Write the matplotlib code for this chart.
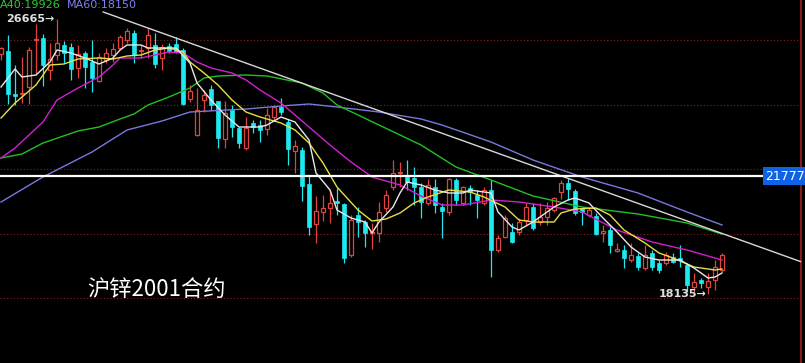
import matplotlib
matplotlib.use('Agg')
import matplotlib.pyplot as plt
from matplotlib.patches import Rectangle

plt.rcParams['font.family'] = ['DejaVu Sans', 'Noto Sans CJK SC']

# 日K线 OHLC
opens = [25566, 25659, 24326, 24326, 24543, 26000, 26062, 25070, 25535, 25845,
         25783, 25132, 25597, 25318, 24729, 25380, 25535, 25752, 26000, 26217,
         25659, 25752, 25845, 25442, 25814, 25876, 25690, 24171, 23055, 24140,
         24481, 24109, 22931, 23830, 23272, 22652, 23427, 23365, 23241, 23613,
         23923, 23458, 22559, 22590, 21536, 20296, 20668, 20792, 21009, 20916,
         19335, 20575, 20358, 20017, 20017, 20792, 21443, 21877, 21753, 21722,
         21443, 20947, 21443, 20823, 20668, 21660, 20947, 21412, 21195, 20947,
         21350, 19490, 19893, 20048, 20048, 20420, 20823, 20358, 20513, 20730,
         21288, 21567, 21319, 20792, 20575, 20544, 20017, 20110, 19459, 19490,
         19180, 19304, 18932, 19397, 19087, 19087, 19273, 19242, 19025, 18343,
         18560, 18343, 18560, 18870]
highs = [25783, 26155, 25225, 25473, 25783, 26496, 26186, 25907, 26665, 25969,
         25907, 25845, 25659, 26000, 25597, 25752, 25907, 26155, 26372, 26310,
         25845, 26372, 26217, 25876, 25907, 26093, 25752, 24605, 24512, 24450,
         24605, 24109, 24109, 23985, 23303, 23613, 23520, 23520, 23892, 23985,
         24202, 23551, 22900, 22683, 21784, 21164, 21195, 21350, 21412, 20947,
         20575, 20823, 20420, 20327, 20978, 21350, 22280, 22218, 22280, 22063,
         21567, 21691, 21691, 20947, 21722, 21722, 21474, 21505, 21350, 21443,
         21660, 19955, 20575, 20327, 20482, 20947, 20947, 20947, 20978, 21133,
         21660, 21722, 21381, 20823, 20792, 20637, 20265, 20234, 19707, 19645,
         19707, 19397, 19645, 19490, 19180, 19428, 19397, 19645, 19087, 18777,
         18622, 18777, 19180, 19397]
lows = [25380, 24016, 23985, 24047, 24016, 24915, 24574, 24760, 25380, 25287,
        24760, 24822, 24512, 24388, 24698, 25287, 25318, 25690, 25907, 25287,
        25442, 25442, 25132, 25070, 25597, 25597, 23985, 24078, 23024, 23768,
        23830, 22652, 22652, 22993, 22652, 22590, 23117, 22838, 23055, 23520,
        23675, 22125, 21877, 21009, 19955, 19707, 20389, 20327, 20575, 19087,
        19273, 19893, 19583, 19521, 19738, 20668, 21350, 21443, 21350, 20885,
        20482, 20885, 20637, 19862, 20575, 20885, 20885, 20885, 20482, 20885,
        18653, 19428, 19862, 19707, 19955, 20265, 20110, 20265, 20265, 20668,
        21071, 21040, 20575, 20265, 20513, 19955, 19738, 19397, 19428, 18932,
        19118, 18870, 18870, 18870, 18777, 19025, 19087, 18963, 18188, 18188,
        18312, 18135, 18250, 18808]
closes = [25752, 24326, 24264, 24357, 25690, 26031, 25225, 25411, 25907, 25597,
          25101, 25566, 25163, 24822, 25473, 25597, 25721, 26093, 26279, 25535,
          25690, 26155, 25256, 25783, 25659, 25628, 24016, 24419, 23830, 24295,
          23985, 22962, 23737, 23303, 22807, 23272, 23303, 23210, 23675, 23923,
          23768, 22621, 22714, 21474, 20203, 20699, 20792, 20947, 20947, 19242,
          20420, 20358, 20017, 20048, 20668, 21195, 21877, 21908, 21598, 21443,
          20978, 21505, 20885, 20699, 21691, 21040, 21443, 21288, 21040, 21350,
          19490, 19862, 20482, 19738, 20358, 20823, 20172, 20513, 20792, 21102,
          21567, 21381, 20637, 20668, 20730, 19986, 20079, 19645, 19521, 19242,
          19335, 18963, 19335, 18963, 18870, 19335, 19118, 19180, 18405, 18498,
          18467, 18529, 18963, 19335]

# 均线（读图取点：K线序号, 价格）
ma5_idx = [0, 2, 3, 5, 7, 8, 10, 12, 14, 16, 17, 18, 20, 21, 23, 25, 27, 28, 30, 32,
           34, 37, 38, 40, 42, 44, 45, 47, 48, 50, 52, 53, 54, 56, 57, 58, 60, 62, 64,
           66, 67, 70, 71, 73, 74, 76, 79, 81, 82, 84, 86, 88, 90, 92, 94, 97, 99,
           101, 102, 103]
ma5_val = [24543, 25101, 24853, 24915, 25318, 25690, 25597, 25442, 25256, 25442,
           25690, 25845, 25845, 25752, 25752, 25752, 25287, 24667, 24140, 23675,
           23303, 23303, 23365, 23613, 23458, 22900, 21877, 21350, 20730, 20482,
           20358, 20017, 20358, 20823, 21257, 21598, 21505, 21350, 21257, 21257,
           21350, 21257, 20668, 20203, 20110, 20358, 20823, 21040, 21102, 20947,
           20482, 20048, 19583, 19273, 19180, 19180, 18932, 18622, 18653, 18777]
ma10_idx = [0, 2, 5, 7, 9, 11, 14, 16, 18, 20, 22, 24, 26, 27, 29, 31, 33, 35, 37,
            40, 42, 44, 46, 48, 51, 53, 55, 57, 59, 61, 64, 67, 69, 72, 74, 76, 79,
            80, 82, 85, 87, 89, 92, 94, 96, 99, 102, 103]
ma10_val = [23582, 24047, 24605, 25225, 25256, 25411, 25442, 25411, 25504, 25535,
            25690, 25752, 25628, 25318, 24977, 24605, 24140, 23768, 23613, 23427,
            23210, 22807, 22187, 21443, 20730, 20389, 20451, 20637, 20947, 21133,
            21350, 21288, 21133, 20823, 20420, 20358, 20358, 20637, 20761, 20792,
            20575, 20110, 19707, 19397, 19242, 18963, 18870, 18901]
ma20_idx = [0, 2, 6, 8, 11, 14, 16, 17, 20, 22, 24, 26, 28, 30, 33, 35, 37, 40, 44,
            47, 50, 53, 57, 60, 63, 66, 70, 74, 79, 83, 88, 93, 98, 103]
ma20_val = [22342, 22652, 23458, 24140, 24512, 24853, 25225, 25442, 25442, 25535,
            25628, 25597, 25318, 25132, 24977, 24760, 24450, 24047, 23303, 22745,
            22218, 21753, 21505, 21164, 20885, 20885, 21040, 20978, 20823, 20668,
            20110, 19738, 19490, 19180]
ma40_idx = [0, 3, 6, 11, 14, 17, 19, 21, 24, 27, 29, 31, 35, 38, 43, 46, 48, 54, 60,
            65, 70, 76, 83, 91, 98, 103]
ma40_val = [22342, 22466, 22807, 23179, 23303, 23551, 23706, 23985, 24233, 24512,
            24822, 24884, 24915, 24884, 24667, 24357, 23985, 23365, 22745, 22063,
            21660, 21164, 20823, 20606, 20327, 19986]
ma60_idx = [0, 6, 13, 18, 23, 27, 35, 40, 44, 48, 54, 60, 63, 70, 76, 83, 91, 98, 103]
ma60_val = [20978, 21753, 22528, 23210, 23489, 23768, 23861, 23954, 24016, 23923,
            23768, 23551, 23365, 22838, 22280, 21753, 21257, 20668, 20265]

# 压力线与水平线
trend_x = [14.6, 114.4]
trend_y = [26868, 19118]
level_price = 21777
grid_levels = [18000, 20000, 22000, 24000, 26000]
hi_idx, hi_price = 8, 26665
lo_idx, lo_price = 101, 18135

up_color = '#e0443c'
down_color = '#1ee8f0'

fig = plt.figure(figsize=(8.05, 3.63), dpi=100, facecolor='black')
ax = fig.add_axes([0, 0, 801 / 805, 1])
ax.set_facecolor('black')
ax.set_xlim(-1 / 7, 800 / 7)
ax.set_ylim(15987, 27240)
ax.set_xticks([])
ax.set_yticks([])
for side in ['top', 'left', 'bottom']:
    ax.spines[side].set_visible(False)
ax.spines['right'].set_color('#a02020')
ax.spines['right'].set_linewidth(1.2)

for v in grid_levels:
    ax.axhline(v, color='#8c2020', lw=0.8, ls=(0, (1, 2)), zorder=1)

w = 0.7
for i, (o, h, l, c) in enumerate(zip(opens, highs, lows, closes)):
    top, bot = max(o, c), min(o, c)
    if c >= o:
        ax.vlines(i, top, h, color=up_color, lw=0.9, zorder=3)
        ax.vlines(i, l, bot, color=up_color, lw=0.9, zorder=3)
        ax.add_patch(Rectangle((i - w / 2, bot), w, max(top - bot, 15),
                               facecolor='black', edgecolor=up_color, lw=0.9, zorder=3))
    else:
        ax.vlines(i, l, h, color=down_color, lw=0.9, zorder=3)
        ax.add_patch(Rectangle((i - w / 2, bot), w, max(top - bot, 15),
                               facecolor=down_color, edgecolor=down_color, lw=0.5, zorder=3))

ax.plot(ma60_idx, ma60_val, color='#7878e0', lw=1, zorder=4)
ax.plot(ma40_idx, ma40_val, color='#22c022', lw=1, zorder=4)
ax.plot(ma20_idx, ma20_val, color='#d020d0', lw=1, zorder=4)
ax.plot(ma10_idx, ma10_val, color='#e6e040', lw=1, zorder=4)
ax.plot(ma5_idx, ma5_val, color='#e8e8e8', lw=1, zorder=4)

ax.plot(trend_x, trend_y, color='#d8d8d8', lw=1, zorder=5)
ax.axhline(level_price, xmax=763 / 801, color='white', lw=1.6, zorder=5)
ax.text(109.2, level_price, '21777', ha='left', va='center', color='white', fontsize=9,
        bbox=dict(boxstyle='square,pad=0.2', fc='#0d62e6', ec='none'), zorder=6)

ax.text(hi_idx - 0.3, hi_price, f'{hi_price}→', ha='right', va='center',
        color='#e0e0e0', fontsize=8, fontweight='bold', zorder=6)
ax.text(lo_idx - 0.2, lo_price, f'{lo_price}→', ha='right', va='center',
        color='#e0e0e0', fontsize=8, fontweight='bold', zorder=6)

fig.text(87 / 805, 1 - 289 / 363, '沪锌2001合约', color='white', fontsize=16,
         va='center', family=['Noto Sans CJK SC', 'DejaVu Sans'])
fig.text(0.0, 1 - 5 / 363, 'A40:19926', color='#2ecc2e', fontsize=8, va='center')
fig.text(67 / 805, 1 - 5 / 363, 'MA60:18150', color='#8080f0', fontsize=8, va='center')

fig.savefig('out.png', dpi=100, facecolor='black')
